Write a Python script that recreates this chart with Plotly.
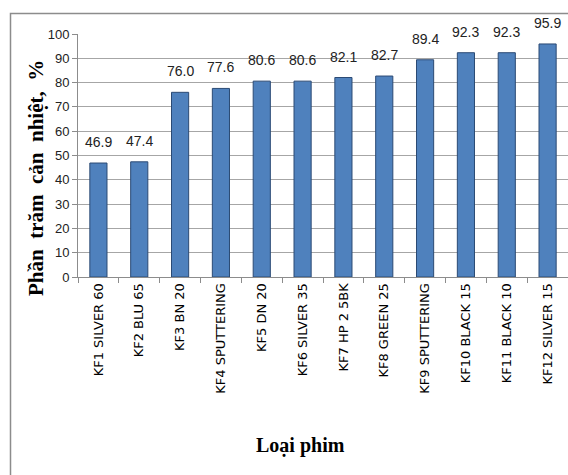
import plotly.graph_objects as go

categories = ["KF1 SILVER 60", "KF2 BLU 65", "KF3 BN 20", "KF4 SPUTTERING", "KF5 DN 20",
              "KF6 SILVER 35", "KF7 HP 2 5BK", "KF8 GREEN 25", "KF9 SPUTTERING",
              "KF10 BLACK 15", "KF11 BLACK 10", "KF12 SILVER 15"]
values = [46.9, 47.4, 76.0, 77.6, 80.6, 80.6, 82.1, 82.7, 89.4, 92.3, 92.3, 95.9]
y_ticks = [0, 10, 20, 30, 40, 50, 60, 70, 80, 90, 100]
y_title = "Phần  trăm  cản  nhiệt,  %"
x_title = "Loại phim"

NARROW = "Liberation Sans Narrow, Arial Narrow, Liberation Sans, sans-serif"
SERIF = "Liberation Serif, Times New Roman, serif"

fig = go.Figure(go.Bar(
    x=categories, y=values,
    marker=dict(color="#4F81BD", line=dict(color="#2B4A74", width=1)),
    width=0.42,
))

for c, v in zip(categories, values):
    fig.add_annotation(x=c, y=v, text=f"{v:.1f}", showarrow=False,
                       yanchor="bottom", yshift=11,
                       font=dict(family=NARROW, size=14, color="#222222"))

fig.add_annotation(xref="paper", yref="paper", x=(36 - 78) / 490, y=1 - (178 - 34) / 243,
                   text=f"<b>{y_title}</b>", textangle=-90, showarrow=False,
                   xanchor="center", yanchor="middle",
                   font=dict(family=SERIF, size=21, color="#000000"))
fig.add_annotation(xref="paper", yref="paper", x=(300 - 78) / 490, y=1 - (445 - 34) / 243,
                   text=f"<b>{x_title}</b>", showarrow=False,
                   xanchor="center", yanchor="middle",
                   font=dict(family=SERIF, size=20, color="#000000"))

fig.add_shape(type="rect", xref="paper", yref="paper",
              x0=(10.5 - 78) / 490, x1=1.1, y0=-0.9, y1=1 - (13.5 - 34) / 243,
              line=dict(color="#8C8C8C", width=1.5), fillcolor="rgba(0,0,0,0)", layer="below")

fig.update_layout(
    width=568, height=475,
    margin=dict(l=78, r=0, t=34, b=198),
    paper_bgcolor="white", plot_bgcolor="white",
    showlegend=False,
    bargap=0.58,
    xaxis=dict(
        type="category", showgrid=False, showline=True, linecolor="#8C8C8C", linewidth=1,
        ticks="outside", tickson="boundaries", ticklen=5, tickcolor="#8C8C8C",
        tickangle=-90, tickfont=dict(family="DejaVu Sans, Verdana, sans-serif", size=13, color="#000000"),
    ),
    yaxis=dict(
        range=[0, 100], tickvals=y_ticks, showgrid=True, gridcolor="#A6A6A6", gridwidth=1,
        showline=True, linecolor="#8C8C8C", linewidth=1,
        ticks="outside", ticklen=5, tickcolor="#8C8C8C",
        tickfont=dict(family=NARROW, size=13, color="#222222"),
        zeroline=False,
    ),
)

fig.write_html("out.html")
